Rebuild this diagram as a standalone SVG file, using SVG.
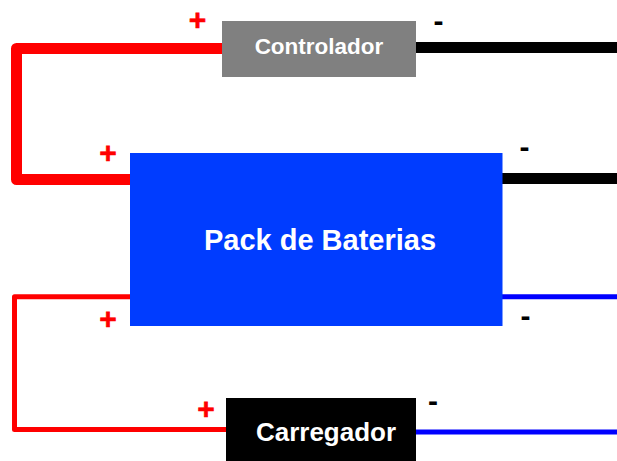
<svg xmlns="http://www.w3.org/2000/svg" width="617" height="461" viewBox="0 0 617 461">
<style>
text{font-family:"Liberation Sans",Arial,sans-serif;font-weight:700;text-anchor:middle}
.w{fill:none;stroke-linejoin:round}
.thick{stroke-width:11}
.thin{stroke-width:5}
.label{fill:#fff}
.p{fill:#f00;font-size:30px;stroke:#f00;stroke-width:.6px}
.m{fill:#000;font-size:30px}
</style>
<rect width="617" height="461" fill="#fff"/>
<g id="connectors">
<path class="w thick" stroke="#f00" d="M222 48.500H16.500V179.500H130"/>
<path class="w thick" stroke="#000" d="M416 47.500H617"/>
<path class="w thick" stroke="#000" d="M502 178.500H617"/>
<path class="w thin" stroke="#f00" d="M130 296.700H14.500V429.500H226"/>
<path class="w thin" stroke="#00f" d="M502 296.700H617"/>
<path class="w thin" stroke="#00f" d="M416 432H617"/>
</g>
<g id="controlador">
<rect x="222" y="21" width="194" height="56" fill="#808080"/>
<text class="label" x="319" y="53.500" font-size="22.500">Controlador</text>
</g>
<g id="pack-de-baterias">
<rect x="130" y="153" width="372.500" height="173" fill="#003cff"/>
<text class="label" x="320" y="250" font-size="29">Pack de Baterias</text>
</g>
<g id="carregador">
<rect x="226" y="398" width="190" height="63" fill="#000"/>
<text class="label" x="326" y="441" font-size="26">Carregador</text>
</g>
<g id="polarity">
<text class="p" x="197.500" y="30">+</text>
<text class="p" x="108" y="163">+</text>
<text class="p" x="108" y="329">+</text>
<text class="p" x="206" y="419">+</text>
<text class="m" x="438.500" y="30.500">-</text>
<text class="m" x="524.500" y="157">-</text>
<text class="m" x="525.500" y="326">-</text>
<text class="m" x="433" y="411">-</text>
</g>
</svg>
